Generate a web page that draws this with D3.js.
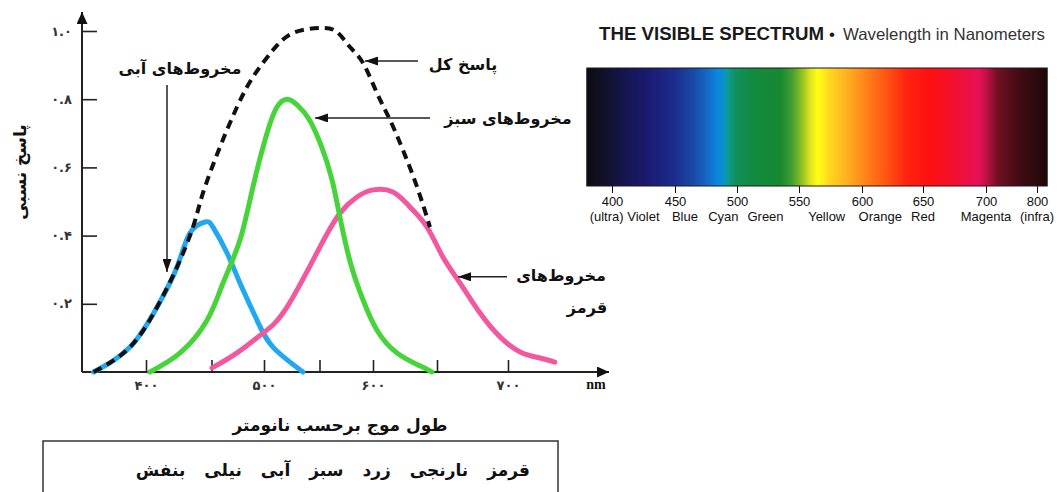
<!DOCTYPE html>
<html>
<head>
<meta charset="utf-8">
<script src="https://cdn.jsdelivr.net/npm/d3@7"></script>
<style>
  html, body { margin: 0; padding: 0; background: #ffffff; }
  svg { display: block; }
</style>
</head>
<body>
<svg id="chart" width="1062" height="492"></svg>
<script>
// ---- Cone response curves: [wavelength (nm), relative response] ----
const blueCones = [[360,0],[387.8,0.073],[408.4,0.19],[423.7,0.308],[433.6,0.408],[445,0.44],[451.4,0.425],[464.8,0.349],[477.1,0.261],[493.3,0.152],[508.1,0.073],[535.1,0]];
const greenCones = [[403,0],[426,0.056],[446.6,0.152],[461,0.261],[477.1,0.387],[489.5,0.543],[502.7,0.70],[511.7,0.777],[520.7,0.80],[530,0.783],[541,0.739],[552,0.66],[562,0.56],[571,0.425],[580,0.308],[590,0.217],[603,0.123],[618.75,0.056],[636.7,0.018],[646,0]];
const redCones = [[450.5,0.012],[474.3,0.056],[499,0.114],[520.7,0.19],[550.5,0.367],[569.2,0.466],[585,0.513],[600,0.534],[615.6,0.528],[628.9,0.484],[642.2,0.425],[654.2,0.337],[666.2,0.261],[680.3,0.173],[694.4,0.103],[708.5,0.059],[722.5,0.041],[733,0.029]];
const totalResponse = [[360,0],[387.8,0.073],[408.4,0.19],[423.7,0.308],[435.9,0.425],[443.5,0.525],[458.1,0.66],[474.3,0.777],[489.5,0.865],[508.1,0.944],[526.1,0.994],[550.5,1.009],[566.4,0.997],[578.5,0.953],[590.7,0.906],[603.1,0.818],[613.3,0.739],[623.4,0.651],[634.4,0.543],[644.5,0.425]];

// ---- Axis ticks ----
const xTicks = [400, 450, 500, 550, 600, 650, 700];
const yTicks = [0.2, 0.4, 0.6, 0.8, 1.0];

// ---- Labels ----
const yTitle = "پاسخ نسبی";
const xTitle = "طول موج برحسب نانومتر";
const xUnit = "nm";
const colorNamesFa = ["قرمز", "نارنجی", "زرد", "سبز", "آبی", "نیلی", "بنفش"];
const curveLabels = {
  blue: "مخروط\u200cهای آبی",
  green: "مخروط\u200cهای سبز",
  red: ["مخروط\u200cهای", "قرمز"],
  total: "پاسخ کل"
};

// ---- Visible spectrum strip ----
const spectrumTicks = [400, 450, 500, 550, 600, 650, 700, 800];
const spectrumNames = ["(ultra) Violet", "Blue", "Cyan", "Green", "Yellow", "Orange", "Red", "Magenta", "(infra)"];
const spectrumNameAt = [410, 458, 489, 523, 572, 615, 650, 700, 800];
const spectrumExtent = [380, 820];
const spectrumStops = [
  [380,"#0c0c14"],[390,"#101022"],[409,"#15154c"],[428,"#1a1a70"],[449,"#1c2c8c"],
  [465,"#1a4aa8"],[476,"#1468c4"],[484,"#0a86e0"],[489,"#0a90d0"],[492,"#0e9c98"],
  [499,"#10905c"],[513,"#128a40"],[535,"#168830"],[545,"#48a030"],[553,"#98c420"],
  [559,"#e2e420"],[565,"#ffff14"],[573,"#ffda20"],[588,"#ffb020"],[604,"#ff8018"],
  [621,"#ff5212"],[636,"#ff2410"],[655,"#ff1010"],[675,"#f21030"],[694,"#e81058"],
  [700,"#c21048"],[723,"#701020"],[767,"#400c14"],[820,"#200808"]
];

const faDigits = s => String(s).replace(/[0-9]/g, d => "۰۱۲۳۴۵۶۷۸۹"[d]);
const FA_FONT = "'DejaVu Sans', sans-serif";

const svg = d3.select("#chart");
const defs = svg.append("defs");

function arrowMarker(id, w, h) {
  defs.append("marker")
    .attr("id", id)
    .attr("viewBox", `0 0 ${w} ${h}`)
    .attr("refX", w).attr("refY", h / 2)
    .attr("markerWidth", w).attr("markerHeight", h)
    .attr("markerUnits", "userSpaceOnUse")
    .attr("orient", "auto")
    .append("path")
    .attr("d", `M0,0 L${w},${h / 2} L0,${h} Z`)
    .attr("fill", "#111");
}
arrowMarker("axisArrow", 12, 11);
arrowMarker("noteArrow", 13, 9);

// ================= Response chart =================
const x = d3.scaleLinear().domain(xTicks).range([146, 211.5, 264, 319.5, 373, 437, 508]);
const y = d3.scaleLinear().domain([0, 1]).range([372, 31]);
const axisX0 = 82;

const plot = svg.append("g");

// y axis
const yAxis = d3.axisLeft(y).tickValues(yTicks).tickSize(-15).tickPadding(10)
  .tickFormat(d => faDigits(d3.format(".1f")(d)));
const gy = plot.append("g").attr("transform", `translate(${axisX0},0)`).call(yAxis);
gy.select(".domain").remove();
gy.selectAll(".tick line").attr("stroke", "#222").attr("stroke-width", 1.6);
gy.selectAll(".tick text").attr("font-family", FA_FONT).attr("font-weight", "bold")
  .attr("font-size", 13).attr("letter-spacing", 2).attr("fill", "#333").attr("direction", "ltr");

// x axis
const xAxis = d3.axisBottom(x).tickValues(xTicks).tickSize(-12).tickPadding(9)
  .tickFormat(d => d % 100 === 0 ? faDigits(d) : "");
const gx = plot.append("g").attr("transform", `translate(0,${y(0)})`).call(xAxis);
gx.select(".domain").remove();
gx.selectAll(".tick line").attr("stroke", "#222").attr("stroke-width", 1.6);
gx.selectAll(".tick text").attr("font-family", FA_FONT).attr("font-weight", "bold")
  .attr("font-size", 13).attr("letter-spacing", 2).attr("fill", "#333");

// axis lines with arrow heads
plot.append("line").attr("x1", axisX0).attr("y1", y(0)).attr("x2", axisX0).attr("y2", 12)
  .attr("stroke", "#222").attr("stroke-width", 2).attr("marker-end", "url(#axisArrow)");
plot.append("line").attr("x1", axisX0).attr("y1", y(0)).attr("x2", 609).attr("y2", y(0))
  .attr("stroke", "#222").attr("stroke-width", 2).attr("marker-end", "url(#axisArrow)");

plot.append("text").attr("x", 596).attr("y", 389).attr("text-anchor", "middle")
  .attr("font-family", "'Liberation Serif', serif").attr("font-weight", "bold")
  .attr("font-size", 14).attr("fill", "#111").text(xUnit);

// axis titles
plot.append("text").attr("transform", "translate(26,172) rotate(-90)")
  .attr("text-anchor", "middle").attr("font-family", FA_FONT).attr("font-weight", "bold")
  .attr("font-size", 17).attr("fill", "#111").text(yTitle);
plot.append("text").attr("x", 340).attr("y", 431).attr("text-anchor", "middle")
  .attr("font-family", FA_FONT).attr("font-weight", "bold")
  .attr("font-size", 17).attr("fill", "#111").text(xTitle);

// curves
const line = d3.line().x(d => x(d[0])).y(d => y(d[1])).curve(d3.curveNatural);
const curves = [
  { data: blueCones, color: "#22a8ee", dash: null, width: 5 },
  { data: redCones, color: "#f2589e", dash: null, width: 5 },
  { data: greenCones, color: "#46d43a", dash: null, width: 5 },
  { data: totalResponse, color: "#111", dash: "9,6", width: 4 }
];
plot.selectAll("path.curve").data(curves).join("path")
  .attr("class", "curve")
  .attr("d", d => line(d.data))
  .attr("fill", "none")
  .attr("stroke", d => d.color)
  .attr("stroke-width", d => d.width)
  .attr("stroke-dasharray", d => d.dash)
  .attr("stroke-linecap", d => d.dash ? "butt" : "round")
  .attr("stroke-linejoin", "round");

// curve annotations
const notes = plot.append("g").attr("font-family", FA_FONT).attr("font-weight", "bold")
  .attr("font-size", 16).attr("fill", "#111").attr("text-anchor", "middle");

function note(x1, y1, x2, y2) {
  notes.append("line").attr("x1", x1).attr("y1", y1).attr("x2", x2).attr("y2", y2)
    .attr("stroke", "#222").attr("stroke-width", 1.5).attr("marker-end", "url(#noteArrow)");
}
// blue cones
notes.append("text").attr("x", 180).attr("y", 74).text(curveLabels.blue);
note(167, 85, 167, y(0.293));
// total response
notes.append("text").attr("x", 463).attr("y", 70).text(curveLabels.total);
note(418, y(0.912), x(592.5), y(0.912));
// green cones
notes.append("text").attr("x", 508).attr("y", 124).text(curveLabels.green);
note(430, y(0.745), x(546), y(0.745));
// red cones
notes.append("text").attr("x", 561).attr("y", 281).text(curveLabels.red[0]);
notes.append("text").attr("x", 587).attr("y", 313).text(curveLabels.red[1]);
note(507, y(0.279), x(664.8), y(0.279));

// colour names box
plot.append("rect").attr("x", 43).attr("y", 441).attr("width", 515).attr("height", 70)
  .attr("fill", "none").attr("stroke", "#333").attr("stroke-width", 1.5);
const names = plot.append("g").attr("font-family", FA_FONT).attr("font-weight", "bold")
  .attr("font-size", 17).attr("fill", "#111").attr("text-anchor", "middle");
let cursor = 530;
colorNamesFa.forEach(n => {
  const t = names.append("text").attr("y", 476).text(n);
  const w = t.node().getComputedTextLength();
  t.attr("x", cursor - w / 2);
  cursor -= w + 19;
});

// ================= Visible spectrum strip =================
const sx = d3.scaleLinear().domain(spectrumTicks).range([612, 675, 737, 799, 862, 923, 986, 1037]);
const barTop = 68, barBottom = 186;
const bx0 = sx(spectrumExtent[0]), bx1 = sx(spectrumExtent[1]);

const grad = defs.append("linearGradient").attr("id", "spectrum")
  .attr("x1", 0).attr("x2", 1).attr("y1", 0).attr("y2", 0);
grad.selectAll("stop").data(spectrumStops).join("stop")
  .attr("offset", d => (sx(d[0]) - bx0) / (bx1 - bx0))
  .attr("stop-color", d => d[1]);

const spec = svg.append("g");
spec.append("rect").attr("x", bx0).attr("y", barTop).attr("width", bx1 - bx0)
  .attr("height", barBottom - barTop).attr("fill", "url(#spectrum)")
  .attr("stroke", "#1a1a1a").attr("stroke-width", 1);

const sAxis = d3.axisBottom(sx).tickValues(spectrumTicks).tickSize(7).tickPadding(4)
  .tickFormat(d3.format("d"));
const gs = spec.append("g").attr("transform", `translate(0,${barBottom})`).call(sAxis);
gs.select(".domain").remove();
gs.selectAll(".tick line").attr("stroke", "#111");
gs.selectAll(".tick text").attr("font-family", "'Liberation Sans', Arial, sans-serif")
  .attr("font-size", 13).attr("fill", "#111");

spec.selectAll("text.sname").data(spectrumNames).join("text")
  .attr("class", "sname")
  .attr("x", (d, i) => sx(spectrumNameAt[i]))
  .attr("y", 221)
  .attr("text-anchor", "middle")
  .attr("font-family", "'Liberation Sans', Arial, sans-serif")
  .attr("font-size", 13).attr("fill", "#111")
  .text(d => d);

// title
spec.append("text").attr("x", 599).attr("y", 40)
  .attr("font-family", "'Liberation Sans', Arial, sans-serif").attr("font-weight", "bold")
  .attr("font-size", 18).attr("fill", "#1a1a1a")
  .attr("textLength", 225).attr("lengthAdjust", "spacingAndGlyphs")
  .text("THE VISIBLE SPECTRUM");
spec.append("text").attr("x", 832).attr("y", 40).attr("text-anchor", "middle")
  .attr("font-family", "'Liberation Sans', Arial, sans-serif")
  .attr("font-size", 17).attr("fill", "#1a1a1a").text("•");
spec.append("text").attr("x", 843).attr("y", 40)
  .attr("font-family", "'Liberation Sans', Arial, sans-serif")
  .attr("font-size", 16.5).attr("fill", "#333")
  .attr("textLength", 202).attr("lengthAdjust", "spacingAndGlyphs")
  .text("Wavelength in Nanometers");
</script>
</body>
</html>
